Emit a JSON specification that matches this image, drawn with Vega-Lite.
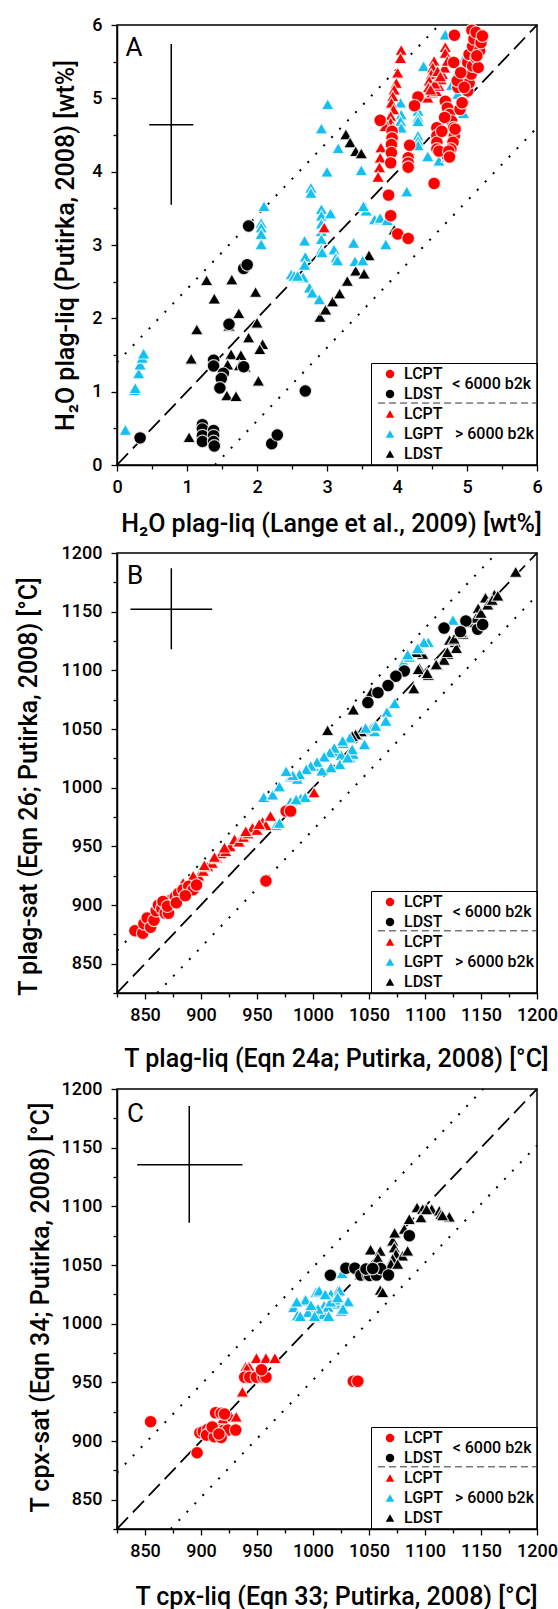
{
  "$schema": "https://vega.github.io/schema/vega-lite/v6.json",
  "background": "white",
  "padding": {"left": 15, "top": 15, "right": 5, "bottom": 0},
  "config": {
    "font": "Roboto",
    "view": {"stroke": "black", "strokeWidth": 1.5},
    "axis": {
      "grid": false, "domainColor": "black", "domainWidth": 1.5,
      "tickColor": "black", "tickWidth": 1.3,
      "labelFont": "Roboto", "labelFontSize": 18, "labelFontWeight": 500, "labelColor": "black",
      "labelOverlap": false, "labelFlush": false,
      "titleFont": "Roboto", "titleFontSize": 25, "titleFontWeight": 500,
      "titleColor": "black", "titleBaseline": "alphabetic"
    },
    "axisX": {"labelPadding": 7},
    "axisY": {"labelPadding": 9, "titleAngle": 270},
    "legend": {
      "title": null, "orient": "bottom-right", "offset": 0,
      "padding": 3, "rowPadding": 4, "symbolOffset": 8, "labelOffset": 6,
      "symbolSize": 72, "symbolStrokeWidth": 0, "symbolOpacity": 1,
      "labelFont": "Roboto", "labelFontSize": 16, "labelFontWeight": 500, "labelColor": "black",
      "strokeColor": "black"
    }
  },
  "datasets": {
    "guideA": [
      {"kind": "one", "x": 0, "y": 0, "x2": 6, "y2": 6},
      {"kind": "band", "x": 0, "y": 1.4, "x2": 4.6, "y2": 6},
      {"kind": "band", "x": 1.4, "y": 0, "x2": 6, "y2": 4.6},
      {"kind": "err", "x": 0.46, "y": 4.64, "x2": 1.09, "y2": 4.64},
      {"kind": "err", "x": 0.775, "y": 3.55, "x2": 0.775, "y2": 5.74},
      {"kind": "sep", "x": 3.73, "y": 0.845, "x2": 6, "y2": 0.845}
    ],
    "guideB": [
      {"kind": "one", "x": 825, "y": 825, "x2": 1200, "y2": 1200},
      {"kind": "band", "x": 825, "y": 861, "x2": 1164, "y2": 1200},
      {"kind": "band", "x": 861, "y": 825, "x2": 1200, "y2": 1164},
      {"kind": "err", "x": 837, "y": 1152, "x2": 910, "y2": 1152},
      {"kind": "err", "x": 873.5, "y": 1118, "x2": 873.5, "y2": 1187},
      {"kind": "sep", "x": 1058, "y": 878, "x2": 1200, "y2": 878}
    ],
    "guideC": [
      {"kind": "one", "x": 825, "y": 825, "x2": 1200, "y2": 1200},
      {"kind": "band", "x": 825, "y": 873, "x2": 1152, "y2": 1200},
      {"kind": "band", "x": 873, "y": 825, "x2": 1200, "y2": 1152},
      {"kind": "err", "x": 843, "y": 1135.5, "x2": 937, "y2": 1135.5},
      {"kind": "err", "x": 889.5, "y": 1086, "x2": 889.5, "y2": 1185.5},
      {"kind": "sep", "x": 1058, "y": 878, "x2": 1200, "y2": 878}
    ],
    "noteA": [
      {"kind": "panel", "x": 0.12, "y": 5.58, "label": "A"},
      {"kind": "group", "x": 4.79, "y": 1.10, "label": "< 6000 b2k"}
    ],
    "noteB": [
      {"kind": "panel", "x": 834, "y": 1174, "label": "B"},
      {"kind": "group", "x": 1124.7, "y": 894, "label": "< 6000 b2k"}
    ],
    "noteC": [
      {"kind": "panel", "x": 834, "y": 1171.5, "label": "C"},
      {"kind": "group", "x": 1124.7, "y": 894, "label": "< 6000 b2k"}
    ],
    "A": [
      {"series": "LDST >6000", "x": 1.03, "y": 0.38}, {"series": "LDST >6000", "x": 1.06, "y": 1.45}, {"series": "LDST >6000", "x": 1.14, "y": 1.85}, {"series": "LDST >6000", "x": 1.28, "y": 2.52}, {"series": "LDST >6000", "x": 1.39, "y": 2.27}, {"series": "LDST >6000", "x": 1.64, "y": 2.53}, {"series": "LDST >6000", "x": 1.74, "y": 2.07}, {"series": "LDST >6000", "x": 1.60, "y": 1.90}, {"series": "LDST >6000", "x": 1.98, "y": 2.36}, {"series": "LDST >6000", "x": 2.00, "y": 1.94}, {"series": "LDST >6000", "x": 1.88, "y": 1.74}, {"series": "LDST >6000", "x": 2.08, "y": 1.65}, {"series": "LDST >6000", "x": 2.04, "y": 1.58}, {"series": "LDST >6000", "x": 1.63, "y": 1.51}, {"series": "LDST >6000", "x": 1.58, "y": 1.37}, {"series": "LDST >6000", "x": 1.77, "y": 1.50}, {"series": "LDST >6000", "x": 1.75, "y": 1.36}, {"series": "LDST >6000", "x": 1.83, "y": 1.34}, {"series": "LDST >6000", "x": 1.57, "y": 0.95}, {"series": "LDST >6000", "x": 1.70, "y": 0.94}, {"series": "LDST >6000", "x": 2.02, "y": 1.15}, {"series": "LDST >6000", "x": 2.90, "y": 2.02}, {"series": "LDST >6000", "x": 2.98, "y": 2.12}, {"series": "LDST >6000", "x": 3.08, "y": 2.23}, {"series": "LDST >6000", "x": 3.18, "y": 2.34}, {"series": "LDST >6000", "x": 3.29, "y": 2.51}, {"series": "LDST >6000", "x": 3.41, "y": 2.65}, {"series": "LDST >6000", "x": 3.53, "y": 2.61}, {"series": "LDST >6000", "x": 3.60, "y": 2.86}, {"series": "LDST >6000", "x": 3.96, "y": 3.21}, {"series": "LDST >6000", "x": 3.27, "y": 4.51}, {"series": "LDST >6000", "x": 3.33, "y": 4.40}, {"series": "LDST >6000", "x": 3.41, "y": 4.28}, {"series": "LDST >6000", "x": 3.49, "y": 4.25},
      {"series": "LGPT >6000", "x": 0.12, "y": 0.48}, {"series": "LGPT >6000", "x": 0.25, "y": 1.02}, {"series": "LGPT >6000", "x": 0.26, "y": 1.05}, {"series": "LGPT >6000", "x": 0.31, "y": 1.25}, {"series": "LGPT >6000", "x": 0.33, "y": 1.37}, {"series": "LGPT >6000", "x": 0.36, "y": 1.46}, {"series": "LGPT >6000", "x": 0.38, "y": 1.52}, {"series": "LGPT >6000", "x": 2.10, "y": 3.53}, {"series": "LGPT >6000", "x": 2.06, "y": 3.30}, {"series": "LGPT >6000", "x": 2.06, "y": 3.24}, {"series": "LGPT >6000", "x": 2.06, "y": 3.15}, {"series": "LGPT >6000", "x": 2.06, "y": 3.01}, {"series": "LGPT >6000", "x": 2.68, "y": 3.06}, {"series": "LGPT >6000", "x": 2.69, "y": 2.84}, {"series": "LGPT >6000", "x": 2.68, "y": 2.73}, {"series": "LGPT >6000", "x": 2.66, "y": 2.56}, {"series": "LGPT >6000", "x": 2.49, "y": 2.60}, {"series": "LGPT >6000", "x": 2.53, "y": 2.58}, {"series": "LGPT >6000", "x": 2.58, "y": 2.58}, {"series": "LGPT >6000", "x": 2.75, "y": 2.42}, {"series": "LGPT >6000", "x": 2.79, "y": 2.35}, {"series": "LGPT >6000", "x": 2.89, "y": 2.26}, {"series": "LGPT >6000", "x": 2.77, "y": 3.78}, {"series": "LGPT >6000", "x": 2.77, "y": 3.71}, {"series": "LGPT >6000", "x": 2.92, "y": 3.49}, {"series": "LGPT >6000", "x": 2.92, "y": 3.40}, {"series": "LGPT >6000", "x": 2.92, "y": 3.29}, {"series": "LGPT >6000", "x": 2.92, "y": 3.19}, {"series": "LGPT >6000", "x": 2.92, "y": 3.08}, {"series": "LGPT >6000", "x": 2.92, "y": 2.94}, {"series": "LGPT >6000", "x": 2.93, "y": 2.90}, {"series": "LGPT >6000", "x": 3.05, "y": 3.43}, {"series": "LGPT >6000", "x": 3.10, "y": 2.94}, {"series": "LGPT >6000", "x": 3.13, "y": 2.83}, {"series": "LGPT >6000", "x": 3.15, "y": 2.79}, {"series": "LGPT >6000", "x": 3.38, "y": 3.03}, {"series": "LGPT >6000", "x": 3.40, "y": 2.78}, {"series": "LGPT >6000", "x": 3.51, "y": 2.79}, {"series": "LGPT >6000", "x": 3.56, "y": 3.47}, {"series": "LGPT >6000", "x": 3.52, "y": 3.53}, {"series": "LGPT >6000", "x": 3.68, "y": 3.35}, {"series": "LGPT >6000", "x": 3.76, "y": 3.37}, {"series": "LGPT >6000", "x": 3.86, "y": 3.34}, {"series": "LGPT >6000", "x": 3.84, "y": 3.01}, {"series": "LGPT >6000", "x": 3.01, "y": 4.92}, {"series": "LGPT >6000", "x": 2.92, "y": 4.59}, {"series": "LGPT >6000", "x": 3.16, "y": 4.32}, {"series": "LGPT >6000", "x": 3.00, "y": 4.00}, {"series": "LGPT >6000", "x": 3.49, "y": 4.02}, {"series": "LGPT >6000", "x": 4.14, "y": 3.73}, {"series": "LGPT >6000", "x": 4.44, "y": 4.21}, {"series": "LGPT >6000", "x": 4.60, "y": 4.15}, {"series": "LGPT >6000", "x": 4.72, "y": 4.20}, {"series": "LGPT >6000", "x": 4.30, "y": 4.83}, {"series": "LGPT >6000", "x": 4.30, "y": 4.74}, {"series": "LGPT >6000", "x": 4.30, "y": 4.69}, {"series": "LGPT >6000", "x": 4.30, "y": 4.49}, {"series": "LGPT >6000", "x": 4.30, "y": 4.42}, {"series": "LGPT >6000", "x": 4.30, "y": 4.36}, {"series": "LGPT >6000", "x": 4.05, "y": 4.94}, {"series": "LGPT >6000", "x": 4.06, "y": 4.78}, {"series": "LGPT >6000", "x": 4.05, "y": 4.69}, {"series": "LGPT >6000", "x": 4.06, "y": 4.60}, {"series": "LGPT >6000", "x": 4.69, "y": 5.87}, {"series": "LGPT >6000", "x": 4.38, "y": 5.44}, {"series": "LGPT >6000", "x": 4.96, "y": 5.55}, {"series": "LGPT >6000", "x": 4.84, "y": 5.32}, {"series": "LGPT >6000", "x": 4.78, "y": 5.18}, {"series": "LGPT >6000", "x": 4.90, "y": 5.09}, {"series": "LGPT >6000", "x": 4.87, "y": 5.06}, {"series": "LGPT >6000", "x": 4.95, "y": 4.80},
      {"series": "LDST <6000", "x": 0.33, "y": 0.37}, {"series": "LDST <6000", "x": 1.88, "y": 3.26}, {"series": "LDST <6000", "x": 1.81, "y": 2.68}, {"series": "LDST <6000", "x": 1.86, "y": 2.73}, {"series": "LDST <6000", "x": 2.69, "y": 1.01}, {"series": "LDST <6000", "x": 2.21, "y": 0.29}, {"series": "LDST <6000", "x": 2.29, "y": 0.41}, {"series": "LDST <6000", "x": 1.22, "y": 0.55}, {"series": "LDST <6000", "x": 1.22, "y": 0.49}, {"series": "LDST <6000", "x": 1.22, "y": 0.40}, {"series": "LDST <6000", "x": 1.22, "y": 0.32}, {"series": "LDST <6000", "x": 1.38, "y": 0.47}, {"series": "LDST <6000", "x": 1.38, "y": 0.40}, {"series": "LDST <6000", "x": 1.38, "y": 0.32}, {"series": "LDST <6000", "x": 1.39, "y": 0.26}, {"series": "LDST <6000", "x": 1.38, "y": 1.43}, {"series": "LDST <6000", "x": 1.38, "y": 1.35}, {"series": "LDST <6000", "x": 1.52, "y": 1.25}, {"series": "LDST <6000", "x": 1.49, "y": 1.18}, {"series": "LDST <6000", "x": 1.47, "y": 1.05}, {"series": "LDST <6000", "x": 1.60, "y": 1.92}, {"series": "LDST <6000", "x": 1.81, "y": 1.34},
      {"series": "LCPT >6000", "x": 4.06, "y": 5.66}, {"series": "LCPT >6000", "x": 4.05, "y": 5.55}, {"series": "LCPT >6000", "x": 4.69, "y": 5.70}, {"series": "LCPT >6000", "x": 4.69, "y": 5.62}, {"series": "LCPT >6000", "x": 4.01, "y": 5.35}, {"series": "LCPT >6000", "x": 3.99, "y": 5.21}, {"series": "LCPT >6000", "x": 3.96, "y": 5.12}, {"series": "LCPT >6000", "x": 3.94, "y": 5.03}, {"series": "LCPT >6000", "x": 3.92, "y": 4.94}, {"series": "LCPT >6000", "x": 3.95, "y": 4.85}, {"series": "LCPT >6000", "x": 3.91, "y": 4.76}, {"series": "LCPT >6000", "x": 3.91, "y": 4.67}, {"series": "LCPT >6000", "x": 3.94, "y": 4.58}, {"series": "LCPT >6000", "x": 3.94, "y": 4.49}, {"series": "LCPT >6000", "x": 3.91, "y": 4.40}, {"series": "LCPT >6000", "x": 3.82, "y": 4.69}, {"series": "LCPT >6000", "x": 3.83, "y": 4.62}, {"series": "LCPT >6000", "x": 3.77, "y": 4.33}, {"series": "LCPT >6000", "x": 3.76, "y": 4.19}, {"series": "LCPT >6000", "x": 3.75, "y": 4.06}, {"series": "LCPT >6000", "x": 3.73, "y": 3.93}, {"series": "LCPT >6000", "x": 4.53, "y": 5.51}, {"series": "LCPT >6000", "x": 4.51, "y": 5.42}, {"series": "LCPT >6000", "x": 4.49, "y": 5.33}, {"series": "LCPT >6000", "x": 4.46, "y": 5.24}, {"series": "LCPT >6000", "x": 4.45, "y": 5.15}, {"series": "LCPT >6000", "x": 4.44, "y": 5.01}, {"series": "LCPT >6000", "x": 4.50, "y": 5.08}, {"series": "LCPT >6000", "x": 4.56, "y": 5.10}, {"series": "LCPT >6000", "x": 4.60, "y": 5.17}, {"series": "LCPT >6000", "x": 4.63, "y": 5.26}, {"series": "LCPT >6000", "x": 4.65, "y": 5.33}, {"series": "LCPT >6000", "x": 4.68, "y": 5.42}, {"series": "LCPT >6000", "x": 4.72, "y": 5.51}, {"series": "LCPT >6000", "x": 4.58, "y": 5.37}, {"series": "LCPT >6000", "x": 4.54, "y": 5.20}, {"series": "LCPT >6000", "x": 4.48, "y": 5.12}, {"series": "LCPT >6000", "x": 4.62, "y": 5.30}, {"series": "LCPT >6000", "x": 2.96, "y": 3.24},
      {"series": "LCPT <6000", "x": 4.82, "y": 5.86}, {"series": "LCPT <6000", "x": 5.07, "y": 5.93}, {"series": "LCPT <6000", "x": 5.20, "y": 5.87}, {"series": "LCPT <6000", "x": 5.22, "y": 5.81}, {"series": "LCPT <6000", "x": 5.18, "y": 5.74}, {"series": "LCPT <6000", "x": 5.10, "y": 5.65}, {"series": "LCPT <6000", "x": 5.13, "y": 5.58}, {"series": "LCPT <6000", "x": 3.76, "y": 4.70}, {"series": "LCPT <6000", "x": 3.88, "y": 3.68}, {"series": "LCPT <6000", "x": 3.91, "y": 3.40}, {"series": "LCPT <6000", "x": 4.01, "y": 3.15}, {"series": "LCPT <6000", "x": 4.16, "y": 3.09}, {"series": "LCPT <6000", "x": 4.16, "y": 4.19}, {"series": "LCPT <6000", "x": 4.16, "y": 4.12}, {"series": "LCPT <6000", "x": 4.16, "y": 4.06}, {"series": "LCPT <6000", "x": 4.18, "y": 4.36}, {"series": "LCPT <6000", "x": 3.93, "y": 4.55}, {"series": "LCPT <6000", "x": 3.93, "y": 4.46}, {"series": "LCPT <6000", "x": 3.92, "y": 4.37}, {"series": "LCPT <6000", "x": 3.92, "y": 4.26}, {"series": "LCPT <6000", "x": 3.91, "y": 4.12}, {"series": "LCPT <6000", "x": 4.53, "y": 3.84}, {"series": "LCPT <6000", "x": 4.30, "y": 5.02}, {"series": "LCPT <6000", "x": 4.25, "y": 4.90}, {"series": "LCPT <6000", "x": 4.81, "y": 5.49}, {"series": "LCPT <6000", "x": 4.57, "y": 4.60}, {"series": "LCPT <6000", "x": 4.57, "y": 4.49}, {"series": "LCPT <6000", "x": 4.57, "y": 4.40}, {"series": "LCPT <6000", "x": 4.57, "y": 4.31}, {"series": "LCPT <6000", "x": 4.69, "y": 4.96}, {"series": "LCPT <6000", "x": 4.72, "y": 4.87}, {"series": "LCPT <6000", "x": 4.75, "y": 4.78}, {"series": "LCPT <6000", "x": 4.78, "y": 4.69}, {"series": "LCPT <6000", "x": 4.81, "y": 4.60}, {"series": "LCPT <6000", "x": 4.82, "y": 4.49}, {"series": "LCPT <6000", "x": 4.80, "y": 4.40}, {"series": "LCPT <6000", "x": 4.77, "y": 4.31}, {"series": "LCPT <6000", "x": 4.72, "y": 4.21}, {"series": "LCPT <6000", "x": 4.87, "y": 5.15}, {"series": "LCPT <6000", "x": 4.94, "y": 5.26}, {"series": "LCPT <6000", "x": 4.99, "y": 5.37}, {"series": "LCPT <6000", "x": 5.01, "y": 5.49}, {"series": "LCPT <6000", "x": 5.03, "y": 5.60}, {"series": "LCPT <6000", "x": 5.08, "y": 5.71}, {"series": "LCPT <6000", "x": 5.10, "y": 5.81}, {"series": "LCPT <6000", "x": 5.13, "y": 5.90}, {"series": "LCPT <6000", "x": 5.01, "y": 5.10}, {"series": "LCPT <6000", "x": 5.03, "y": 5.21}, {"series": "LCPT <6000", "x": 5.06, "y": 5.33}, {"series": "LCPT <6000", "x": 5.08, "y": 5.44}, {"series": "LCPT <6000", "x": 5.13, "y": 5.55}, {"series": "LCPT <6000", "x": 5.18, "y": 5.65}, {"series": "LCPT <6000", "x": 5.20, "y": 5.76}, {"series": "LCPT <6000", "x": 5.22, "y": 5.85}, {"series": "LCPT <6000", "x": 4.94, "y": 4.94}, {"series": "LCPT <6000", "x": 4.90, "y": 4.85}, {"series": "LCPT <6000", "x": 4.64, "y": 4.55}, {"series": "LCPT <6000", "x": 4.68, "y": 4.74}, {"series": "LCPT <6000", "x": 4.60, "y": 4.28}, {"series": "LCPT <6000", "x": 4.83, "y": 4.58}, {"series": "LCPT <6000", "x": 4.74, "y": 4.28}, {"series": "LCPT <6000", "x": 4.75, "y": 4.20}, {"series": "LCPT <6000", "x": 4.93, "y": 4.94}, {"series": "LCPT <6000", "x": 4.86, "y": 5.24}, {"series": "LCPT <6000", "x": 4.91, "y": 5.35}, {"series": "LCPT <6000", "x": 4.96, "y": 5.15}, {"series": "LCPT <6000", "x": 5.16, "y": 5.42}, {"series": "LCPT <6000", "x": 5.14, "y": 5.58}
    ],
    "B": [
      {"series": "LDST >6000", "x": 1181, "y": 1184}, {"series": "LDST >6000", "x": 1157, "y": 1159}, {"series": "LDST >6000", "x": 1147.5, "y": 1153}, {"series": "LDST >6000", "x": 1154, "y": 1162}, {"series": "LDST >6000", "x": 1162, "y": 1164.6}, {"series": "LDST >6000", "x": 1134, "y": 1131}, {"series": "LDST >6000", "x": 1127, "y": 1124}, {"series": "LDST >6000", "x": 1120.5, "y": 1114}, {"series": "LDST >6000", "x": 1116, "y": 1109}, {"series": "LDST >6000", "x": 1128, "y": 1119}, {"series": "LDST >6000", "x": 1122, "y": 1126}, {"series": "LDST >6000", "x": 1111, "y": 1104.5}, {"series": "LDST >6000", "x": 1103, "y": 1096}, {"series": "LDST >6000", "x": 1098, "y": 1114}, {"series": "LDST >6000", "x": 1095, "y": 1102}, {"series": "LDST >6000", "x": 1090, "y": 1084.6}, {"series": "LDST >6000", "x": 1052, "y": 1081.7}, {"series": "LDST >6000", "x": 1036, "y": 1066.6}, {"series": "LDST >6000", "x": 1013, "y": 1049}, {"series": "LDST >6000", "x": 1052, "y": 1050.5}, {"series": "LDST >6000", "x": 1039.5, "y": 1045}, {"series": "LDST >6000", "x": 1046, "y": 1049}, {"series": "LDST >6000", "x": 1092, "y": 1115.6}, {"series": "LDST >6000", "x": 1117, "y": 1109}, {"series": "LDST >6000", "x": 1120, "y": 1115.6}, {"series": "LDST >6000", "x": 1126, "y": 1127}, {"series": "LDST >6000", "x": 1132, "y": 1132.6}, {"series": "LDST >6000", "x": 1141, "y": 1141}, {"series": "LDST >6000", "x": 1145.5, "y": 1144.7}, {"series": "LDST >6000", "x": 1150, "y": 1149}, {"series": "LDST >6000", "x": 1156, "y": 1156}, {"series": "LDST >6000", "x": 1160, "y": 1160}, {"series": "LDST >6000", "x": 1165, "y": 1163.6}, {"series": "LDST >6000", "x": 1047, "y": 1050}, {"series": "LDST >6000", "x": 1043, "y": 1048}, {"series": "LDST >6000", "x": 1038, "y": 1045.5}, {"series": "LDST >6000", "x": 1035, "y": 1044}, {"series": "LDST >6000", "x": 1094, "y": 1101}, {"series": "LDST >6000", "x": 1102, "y": 1097.6}, {"series": "LDST >6000", "x": 1110, "y": 1105},
      {"series": "LGPT >6000", "x": 956, "y": 992}, {"series": "LGPT >6000", "x": 964, "y": 994}, {"series": "LGPT >6000", "x": 970, "y": 1001}, {"series": "LGPT >6000", "x": 980, "y": 1009.5}, {"series": "LGPT >6000", "x": 986, "y": 1007.5}, {"series": "LGPT >6000", "x": 980, "y": 988}, {"series": "LGPT >6000", "x": 984.5, "y": 990}, {"series": "LGPT >6000", "x": 989, "y": 991}, {"series": "LGPT >6000", "x": 993, "y": 992}, {"series": "LGPT >6000", "x": 967, "y": 968}, {"series": "LGPT >6000", "x": 970, "y": 970}, {"series": "LGPT >6000", "x": 1001, "y": 1018.5}, {"series": "LGPT >6000", "x": 1004.5, "y": 1021}, {"series": "LGPT >6000", "x": 1011, "y": 1026}, {"series": "LGPT >6000", "x": 1019, "y": 1030.6}, {"series": "LGPT >6000", "x": 1027, "y": 1038}, {"series": "LGPT >6000", "x": 1033, "y": 1042.6}, {"series": "LGPT >6000", "x": 1033, "y": 1025.6}, {"series": "LGPT >6000", "x": 1025, "y": 1028}, {"series": "LGPT >6000", "x": 1046, "y": 1037}, {"series": "LGPT >6000", "x": 1055, "y": 1048}, {"series": "LGPT >6000", "x": 1065, "y": 1057.6}, {"series": "LGPT >6000", "x": 1066.5, "y": 1064.7}, {"series": "LGPT >6000", "x": 1073, "y": 1072}, {"series": "LGPT >6000", "x": 1054, "y": 1052}, {"series": "LGPT >6000", "x": 1081, "y": 1107}, {"series": "LGPT >6000", "x": 1086, "y": 1111.5}, {"series": "LGPT >6000", "x": 1095, "y": 1118.6}, {"series": "LGPT >6000", "x": 1103, "y": 1124}, {"series": "LGPT >6000", "x": 1125, "y": 1143}, {"series": "LGPT >6000", "x": 1036, "y": 1028.7}, {"series": "LGPT >6000", "x": 1024, "y": 1020}, {"series": "LGPT >6000", "x": 1016, "y": 1017.4}, {"series": "LGPT >6000", "x": 1008, "y": 1014.6}, {"series": "LGPT >6000", "x": 1099, "y": 1124}, {"series": "LGPT >6000", "x": 1093.5, "y": 1119}, {"series": "LGPT >6000", "x": 1084.5, "y": 1113.5}, {"series": "LGPT >6000", "x": 1066, "y": 1064.5}, {"series": "LGPT >6000", "x": 1065, "y": 1057}, {"series": "LGPT >6000", "x": 1056, "y": 1052.6}, {"series": "LGPT >6000", "x": 1047, "y": 1051}, {"series": "LGPT >6000", "x": 1035, "y": 1032.7}, {"series": "LGPT >6000", "x": 1031, "y": 1025.7}, {"series": "LGPT >6000", "x": 1026.5, "y": 1040}, {"series": "LGPT >6000", "x": 1019, "y": 1034}, {"series": "LGPT >6000", "x": 1015, "y": 1030}, {"series": "LGPT >6000", "x": 1010, "y": 1026.5}, {"series": "LGPT >6000", "x": 1003.6, "y": 1022}, {"series": "LGPT >6000", "x": 998, "y": 1018.6}, {"series": "LGPT >6000", "x": 994, "y": 1015.7}, {"series": "LGPT >6000", "x": 988, "y": 1011.5}, {"series": "LGPT >6000", "x": 982, "y": 1010.6}, {"series": "LGPT >6000", "x": 976, "y": 1014}, {"series": "LGPT >6000", "x": 985, "y": 990},
      {"series": "LDST <6000", "x": 1117, "y": 1136}, {"series": "LDST <6000", "x": 1136.5, "y": 1142}, {"series": "LDST <6000", "x": 1147, "y": 1135}, {"series": "LDST <6000", "x": 1151.5, "y": 1139}, {"series": "LDST <6000", "x": 1131.6, "y": 1133}, {"series": "LDST <6000", "x": 1081.5, "y": 1099.4}, {"series": "LDST <6000", "x": 1074, "y": 1095}, {"series": "LDST <6000", "x": 1067, "y": 1087}, {"series": "LDST <6000", "x": 1058, "y": 1081}, {"series": "LDST <6000", "x": 1049, "y": 1072.5},
      {"series": "LCPT >6000", "x": 870, "y": 905}, {"series": "LCPT >6000", "x": 876, "y": 908}, {"series": "LCPT >6000", "x": 881, "y": 912}, {"series": "LCPT >6000", "x": 886, "y": 916}, {"series": "LCPT >6000", "x": 891, "y": 920}, {"series": "LCPT >6000", "x": 896, "y": 922}, {"series": "LCPT >6000", "x": 898, "y": 925}, {"series": "LCPT >6000", "x": 902, "y": 929}, {"series": "LCPT >6000", "x": 906, "y": 933}, {"series": "LCPT >6000", "x": 910, "y": 936}, {"series": "LCPT >6000", "x": 914, "y": 940}, {"series": "LCPT >6000", "x": 918, "y": 944}, {"series": "LCPT >6000", "x": 922, "y": 946}, {"series": "LCPT >6000", "x": 926, "y": 950}, {"series": "LCPT >6000", "x": 930, "y": 956}, {"series": "LCPT >6000", "x": 934, "y": 954}, {"series": "LCPT >6000", "x": 938, "y": 958}, {"series": "LCPT >6000", "x": 942, "y": 961}, {"series": "LCPT >6000", "x": 946, "y": 966}, {"series": "LCPT >6000", "x": 950, "y": 964}, {"series": "LCPT >6000", "x": 955, "y": 971}, {"series": "LCPT >6000", "x": 958, "y": 968}, {"series": "LCPT >6000", "x": 962, "y": 976}, {"series": "LCPT >6000", "x": 1001, "y": 996}, {"series": "LCPT >6000", "x": 884, "y": 919}, {"series": "LCPT >6000", "x": 893, "y": 925}, {"series": "LCPT >6000", "x": 903, "y": 934}, {"series": "LCPT >6000", "x": 912, "y": 941}, {"series": "LCPT >6000", "x": 921, "y": 949}, {"series": "LCPT >6000", "x": 940, "y": 963}, {"series": "LCPT >6000", "x": 952, "y": 969},
      {"series": "LCPT <6000", "x": 841, "y": 878}, {"series": "LCPT <6000", "x": 848, "y": 876}, {"series": "LCPT <6000", "x": 849, "y": 884}, {"series": "LCPT <6000", "x": 852, "y": 889}, {"series": "LCPT <6000", "x": 855, "y": 881}, {"series": "LCPT <6000", "x": 858, "y": 887}, {"series": "LCPT <6000", "x": 860, "y": 895}, {"series": "LCPT <6000", "x": 862, "y": 900}, {"series": "LCPT <6000", "x": 865, "y": 897}, {"series": "LCPT <6000", "x": 868, "y": 893}, {"series": "LCPT <6000", "x": 871, "y": 893}, {"series": "LCPT <6000", "x": 873, "y": 904}, {"series": "LCPT <6000", "x": 877, "y": 907}, {"series": "LCPT <6000", "x": 880, "y": 910}, {"series": "LCPT <6000", "x": 884, "y": 913}, {"series": "LCPT <6000", "x": 889, "y": 916}, {"series": "LCPT <6000", "x": 893, "y": 913}, {"series": "LCPT <6000", "x": 896, "y": 917}, {"series": "LCPT <6000", "x": 866, "y": 903}, {"series": "LCPT <6000", "x": 870, "y": 899}, {"series": "LCPT <6000", "x": 878, "y": 902}, {"series": "LCPT <6000", "x": 886, "y": 908}, {"series": "LCPT <6000", "x": 958, "y": 920.5}, {"series": "LCPT <6000", "x": 976, "y": 980}, {"series": "LCPT <6000", "x": 980, "y": 980}
    ],
    "C": [
      {"series": "LDST >6000", "x": 1022, "y": 1027.5}, {"series": "LDST >6000", "x": 1060.1, "y": 1028.8}, {"series": "LDST >6000", "x": 1062.2, "y": 1026.8}, {"series": "LDST >6000", "x": 1051.4, "y": 1063.2}, {"series": "LDST >6000", "x": 1060, "y": 1062}, {"series": "LDST >6000", "x": 1071.2, "y": 1070.7}, {"series": "LDST >6000", "x": 1072.6, "y": 1065}, {"series": "LDST >6000", "x": 1074.1, "y": 1059.4}, {"series": "LDST >6000", "x": 1080, "y": 1058}, {"series": "LDST >6000", "x": 1084.5, "y": 1062.2}, {"series": "LDST >6000", "x": 1081.5, "y": 1080.7}, {"series": "LDST >6000", "x": 1086, "y": 1089.2}, {"series": "LDST >6000", "x": 1092.9, "y": 1099.1}, {"series": "LDST >6000", "x": 1097.9, "y": 1097.7}, {"series": "LDST >6000", "x": 1106, "y": 1097.7}, {"series": "LDST >6000", "x": 1112.8, "y": 1096.3}, {"series": "LDST >6000", "x": 1121.7, "y": 1091.2}, {"series": "LDST >6000", "x": 1096.4, "y": 1090.6}, {"series": "LDST >6000", "x": 1114.3, "y": 1093.4}, {"series": "LDST >6000", "x": 1071.1, "y": 1055.2}, {"series": "LDST >6000", "x": 1069.6, "y": 1050.9}, {"series": "LDST >6000", "x": 1075.6, "y": 1050.9}, {"series": "LDST >6000", "x": 1057.9, "y": 1056}, {"series": "LDST >6000", "x": 1072.9, "y": 1077.5}, {"series": "LDST >6000", "x": 1101.4, "y": 1097.5}, {"series": "LDST >6000", "x": 1115.7, "y": 1092.3},
      {"series": "LGPT >6000", "x": 982.7, "y": 1014}, {"series": "LGPT >6000", "x": 986, "y": 1007}, {"series": "LGPT >6000", "x": 992, "y": 1019.7}, {"series": "LGPT >6000", "x": 998, "y": 1014}, {"series": "LGPT >6000", "x": 1002.7, "y": 1026.8}, {"series": "LGPT >6000", "x": 1004, "y": 1005.5}, {"series": "LGPT >6000", "x": 1010, "y": 1015.5}, {"series": "LGPT >6000", "x": 1013, "y": 1007}, {"series": "LGPT >6000", "x": 1016, "y": 1025.4}, {"series": "LGPT >6000", "x": 1020.5, "y": 1017}, {"series": "LGPT >6000", "x": 1025, "y": 1011}, {"series": "LGPT >6000", "x": 1031, "y": 1018.3}, {"series": "LGPT >6000", "x": 993.4, "y": 1020.5}, {"series": "LGPT >6000", "x": 1005.5, "y": 1028.2}, {"series": "LGPT >6000", "x": 995.6, "y": 1009.8}, {"series": "LGPT >6000", "x": 1009.3, "y": 1008.2}, {"series": "LGPT >6000", "x": 1013.4, "y": 1014.4}, {"series": "LGPT >6000", "x": 1019.8, "y": 1020.5}, {"series": "LGPT >6000", "x": 1023.6, "y": 1028.2}, {"series": "LGPT >6000", "x": 1031.5, "y": 1019}, {"series": "LGPT >6000", "x": 1026.8, "y": 1012.7}, {"series": "LGPT >6000", "x": 1004.5, "y": 1012.7}, {"series": "LGPT >6000", "x": 998.2, "y": 1015.8}, {"series": "LGPT >6000", "x": 988.6, "y": 1006.5}, {"series": "LGPT >6000", "x": 985.5, "y": 1018.8}, {"series": "LGPT >6000", "x": 1001.4, "y": 1006.5}, {"series": "LGPT >6000", "x": 1014, "y": 1006.5}, {"series": "LGPT >6000", "x": 1015.7, "y": 1018.8}, {"series": "LGPT >6000", "x": 1010.9, "y": 1025}, {"series": "LGPT >6000", "x": 1022, "y": 1022.5}, {"series": "LGPT >6000", "x": 1026, "y": 1043},
      {"series": "LDST <6000", "x": 1015.5, "y": 1041.3}, {"series": "LDST <6000", "x": 1029.4, "y": 1047.3}, {"series": "LDST <6000", "x": 1037.4, "y": 1047.3}, {"series": "LDST <6000", "x": 1042.8, "y": 1041.4}, {"series": "LDST <6000", "x": 1049.2, "y": 1041}, {"series": "LDST <6000", "x": 1050.6, "y": 1041}, {"series": "LDST <6000", "x": 1056.6, "y": 1041.4}, {"series": "LDST <6000", "x": 1060.4, "y": 1047}, {"series": "LDST <6000", "x": 1067.4, "y": 1041.4}, {"series": "LDST <6000", "x": 1047.3, "y": 1046.6}, {"series": "LDST <6000", "x": 1053.3, "y": 1047}, {"series": "LDST <6000", "x": 1086, "y": 1075},
      {"series": "LCPT >6000", "x": 937, "y": 942}, {"series": "LCPT >6000", "x": 940, "y": 963.6}, {"series": "LCPT >6000", "x": 943, "y": 963.6}, {"series": "LCPT >6000", "x": 949.5, "y": 970.7}, {"series": "LCPT >6000", "x": 958, "y": 970.7}, {"series": "LCPT >6000", "x": 966, "y": 970.7}, {"series": "LCPT >6000", "x": 922.5, "y": 922}, {"series": "LCPT >6000", "x": 927, "y": 920.7}, {"series": "LCPT >6000", "x": 931.5, "y": 920.7}, {"series": "LCPT >6000", "x": 919.5, "y": 919}, {"series": "LCPT >6000", "x": 941, "y": 962},
      {"series": "LCPT <6000", "x": 855, "y": 916.5}, {"series": "LCPT <6000", "x": 896.5, "y": 890}, {"series": "LCPT <6000", "x": 899, "y": 907}, {"series": "LCPT <6000", "x": 902, "y": 908}, {"series": "LCPT <6000", "x": 906, "y": 910}, {"series": "LCPT <6000", "x": 909, "y": 909.3}, {"series": "LCPT <6000", "x": 913, "y": 910}, {"series": "LCPT <6000", "x": 917, "y": 909.3}, {"series": "LCPT <6000", "x": 920, "y": 909}, {"series": "LCPT <6000", "x": 924, "y": 909.3}, {"series": "LCPT <6000", "x": 931, "y": 909.3}, {"series": "LCPT <6000", "x": 905, "y": 905}, {"series": "LCPT <6000", "x": 912, "y": 903.6}, {"series": "LCPT <6000", "x": 918, "y": 903}, {"series": "LCPT <6000", "x": 913, "y": 924}, {"series": "LCPT <6000", "x": 918, "y": 923.6}, {"series": "LCPT <6000", "x": 921, "y": 923}, {"series": "LCPT <6000", "x": 939, "y": 954.4}, {"series": "LCPT <6000", "x": 943.5, "y": 954.4}, {"series": "LCPT <6000", "x": 949.5, "y": 954.4}, {"series": "LCPT <6000", "x": 955.5, "y": 954.4}, {"series": "LCPT <6000", "x": 958, "y": 954.4}, {"series": "LCPT <6000", "x": 954, "y": 960.7}, {"series": "LCPT <6000", "x": 1036, "y": 951}, {"series": "LCPT <6000", "x": 1040, "y": 951}, {"series": "LCPT <6000", "x": 910, "y": 912}, {"series": "LCPT <6000", "x": 916, "y": 906}
    ]
  },
  "spacing": 88,
  "bounds": "flush",
  "resolve": {
    "scale": {"x": "independent", "y": "independent", "color": "independent", "shape": "independent"},
    "legend": {"color": "independent", "shape": "independent"}
  },
  "vconcat": [
    {
      "width": 420, "height": 440,
      "encoding": {
        "x": {"field": "x", "type": "quantitative", "scale": {"domain": [0, 6], "nice": false, "zero": false},
          "axis": {"values": [0, 0.5, 1, 1.5, 2, 2.5, 3, 3.5, 4, 4.5, 5, 5.5, 6],
            "labelExpr": "datum.value % 1 === 0 ? format(datum.value, 'd') : ''",
            "tickSize": {"condition": {"test": "datum.value % 1 === 0", "value": 6}, "value": 4},
            "title": "H₂O plag-liq (Lange et al., 2009) [wt%]", "titleX": 214, "titleY": 66}},
        "y": {"field": "y", "type": "quantitative", "scale": {"domain": [0, 6], "nice": false, "zero": false},
          "axis": {"values": [0, 0.5, 1, 1.5, 2, 2.5, 3, 3.5, 4, 4.5, 5, 5.5, 6],
            "labelExpr": "datum.value % 1 === 0 ? format(datum.value, 'd') : ''",
            "tickSize": {"condition": {"test": "datum.value % 1 === 0", "value": 6}, "value": 4},
            "title": "H₂O plag-liq (Putirka, 2008) [wt%]", "titleX": -44, "titleY": 220}}
      },
      "layer": [
        {"data": {"name": "guideA"}, "transform": [{"filter": "datum.kind === 'band'"}],
          "mark": {"type": "rule", "strokeDash": [2, 9.5], "strokeWidth": 2, "color": "black"},
          "encoding": {"x2": {"field": "x2"}, "y2": {"field": "y2"}}},
        {"data": {"name": "guideA"}, "transform": [{"filter": "datum.kind === 'one'"}],
          "mark": {"type": "rule", "strokeDash": [16, 7], "strokeWidth": 1.8, "color": "black"},
          "encoding": {"x2": {"field": "x2"}, "y2": {"field": "y2"}}},
        {"data": {"name": "guideA"}, "transform": [{"filter": "datum.kind === 'err'"}],
          "mark": {"type": "rule", "strokeWidth": 1.5, "color": "black"},
          "encoding": {"x2": {"field": "x2"}, "y2": {"field": "y2"}}},
        {"data": {"name": "guideA"}, "transform": [{"filter": "datum.kind === 'sep'"}],
          "mark": {"type": "rule", "strokeDash": [7, 4], "strokeWidth": 1, "color": "#333333"},
          "encoding": {"x2": {"field": "x2"}, "y2": {"field": "y2"}}},
        {"data": {"name": "A"},
          "mark": {"type": "point", "filled": true, "opacity": 1, "size": 160, "stroke": "white", "strokeWidth": 1.2, "strokeOpacity": 0.8},
          "encoding": {
            "color": {"field": "series", "type": "nominal",
              "scale": {"domain": ["LCPT <6000", "LDST <6000", "LCPT >6000", "LGPT >6000", "LDST >6000"], "range": ["#ff0000", "#000000", "#ff0000", "#14bff2", "#000000"]},
              "legend": {"labelExpr": "datum.label === 'LGPT >6000' ? 'LGPT\u00a0\u00a0\u00a0> 6000 b2k' : slice(datum.label, 0, 4)"}},
            "shape": {"field": "series", "type": "nominal",
              "scale": {"domain": ["LCPT <6000", "LDST <6000", "LCPT >6000", "LGPT >6000", "LDST >6000"], "range": ["circle", "circle", "triangle-up", "triangle-up", "triangle-up"]},
              "legend": {"labelExpr": "datum.label === 'LGPT >6000' ? 'LGPT\u00a0\u00a0\u00a0> 6000 b2k' : slice(datum.label, 0, 4)"}}
          }},
        {"data": {"name": "noteA"}, "transform": [{"filter": "datum.kind === 'group'"}],
          "mark": {"type": "text", "align": "left", "baseline": "middle", "fontSize": 16, "fontWeight": 500, "font": "Roboto", "color": "black"},
          "encoding": {"text": {"field": "label"}}},
        {"data": {"name": "noteA"}, "transform": [{"filter": "datum.kind === 'panel'"}],
          "mark": {"type": "text", "align": "left", "baseline": "alphabetic", "fontSize": 26, "fontWeight": 400, "font": "Roboto", "color": "black"},
          "encoding": {"text": {"field": "label"}}}
      ]
    },
    {
      "spacing": 96,
      "bounds": "flush",
      "resolve": {
        "scale": {"x": "independent", "y": "independent", "color": "independent", "shape": "independent"},
        "legend": {"color": "independent", "shape": "independent"}
      },
      "vconcat": [
        {
          "width": 420, "height": 440,
          "encoding": {
            "x": {"field": "x", "type": "quantitative", "scale": {"domain": [825, 1200], "nice": false, "zero": false},
              "axis": {"values": [825, 850, 875, 900, 925, 950, 975, 1000, 1025, 1050, 1075, 1100, 1125, 1150, 1175, 1200],
                "labelExpr": "datum.value % 50 === 0 ? format(datum.value, 'd') : ''",
                "tickSize": {"condition": {"test": "datum.value % 50 === 0", "value": 6}, "value": 4},
                "title": "T plag-liq (Eqn 24a; Putirka, 2008) [°C]", "titleX": 219, "titleY": 73}},
            "y": {"field": "y", "type": "quantitative", "scale": {"domain": [825, 1200], "nice": false, "zero": false},
              "axis": {"values": [825, 850, 875, 900, 925, 950, 975, 1000, 1025, 1050, 1075, 1100, 1125, 1150, 1175, 1200],
                "labelExpr": "datum.value % 50 === 0 ? format(datum.value, 'd') : ''",
                "tickSize": {"condition": {"test": "datum.value % 50 === 0", "value": 6}, "value": 4},
                "title": "T plag-sat (Eqn 26; Putirka, 2008) [°C]", "titleX": -81, "titleY": 233}}
          },
          "layer": [
            {"data": {"name": "guideB"}, "transform": [{"filter": "datum.kind === 'band'"}],
              "mark": {"type": "rule", "strokeDash": [2, 9.5], "strokeWidth": 2, "color": "black"},
              "encoding": {"x2": {"field": "x2"}, "y2": {"field": "y2"}}},
            {"data": {"name": "guideB"}, "transform": [{"filter": "datum.kind === 'one'"}],
              "mark": {"type": "rule", "strokeDash": [16, 7], "strokeWidth": 1.8, "color": "black"},
              "encoding": {"x2": {"field": "x2"}, "y2": {"field": "y2"}}},
            {"data": {"name": "guideB"}, "transform": [{"filter": "datum.kind === 'err'"}],
              "mark": {"type": "rule", "strokeWidth": 1.5, "color": "black"},
              "encoding": {"x2": {"field": "x2"}, "y2": {"field": "y2"}}},
            {"data": {"name": "guideB"}, "transform": [{"filter": "datum.kind === 'sep'"}],
              "mark": {"type": "rule", "strokeDash": [7, 4], "strokeWidth": 1, "color": "#333333"},
              "encoding": {"x2": {"field": "x2"}, "y2": {"field": "y2"}}},
            {"data": {"name": "B"},
              "mark": {"type": "point", "filled": true, "opacity": 1, "size": 160, "stroke": "white", "strokeWidth": 1.2, "strokeOpacity": 0.8},
              "encoding": {
                "color": {"field": "series", "type": "nominal",
                  "scale": {"domain": ["LCPT <6000", "LDST <6000", "LCPT >6000", "LGPT >6000", "LDST >6000"], "range": ["#ff0000", "#000000", "#ff0000", "#14bff2", "#000000"]},
                  "legend": {"labelExpr": "datum.label === 'LGPT >6000' ? 'LGPT\u00a0\u00a0\u00a0> 6000 b2k' : slice(datum.label, 0, 4)"}},
                "shape": {"field": "series", "type": "nominal",
                  "scale": {"domain": ["LCPT <6000", "LDST <6000", "LCPT >6000", "LGPT >6000", "LDST >6000"], "range": ["circle", "circle", "triangle-up", "triangle-up", "triangle-up"]},
                  "legend": {"labelExpr": "datum.label === 'LGPT >6000' ? 'LGPT\u00a0\u00a0\u00a0> 6000 b2k' : slice(datum.label, 0, 4)"}}
              }},
            {"data": {"name": "noteB"}, "transform": [{"filter": "datum.kind === 'group'"}],
              "mark": {"type": "text", "align": "left", "baseline": "middle", "fontSize": 16, "fontWeight": 500, "font": "Roboto", "color": "black"},
              "encoding": {"text": {"field": "label"}}},
            {"data": {"name": "noteB"}, "transform": [{"filter": "datum.kind === 'panel'"}],
              "mark": {"type": "text", "align": "left", "baseline": "alphabetic", "fontSize": 26, "fontWeight": 400, "font": "Roboto", "color": "black"},
              "encoding": {"text": {"field": "label"}}}
          ]
        },
        {
          "width": 420, "height": 440,
          "encoding": {
            "x": {"field": "x", "type": "quantitative", "scale": {"domain": [825, 1200], "nice": false, "zero": false},
              "axis": {"values": [825, 850, 875, 900, 925, 950, 975, 1000, 1025, 1050, 1075, 1100, 1125, 1150, 1175, 1200],
                "labelExpr": "datum.value % 50 === 0 ? format(datum.value, 'd') : ''",
                "tickSize": {"condition": {"test": "datum.value % 50 === 0", "value": 6}, "value": 4},
                "title": "T cpx-liq (Eqn 33; Putirka, 2008) [°C]", "titleX": 219, "titleY": 75}},
            "y": {"field": "y", "type": "quantitative", "scale": {"domain": [825, 1200], "nice": false, "zero": false},
              "axis": {"values": [825, 850, 875, 900, 925, 950, 975, 1000, 1025, 1050, 1075, 1100, 1125, 1150, 1175, 1200],
                "labelExpr": "datum.value % 50 === 0 ? format(datum.value, 'd') : ''",
                "tickSize": {"condition": {"test": "datum.value % 50 === 0", "value": 6}, "value": 4},
                "title": "T cpx-sat (Eqn 34; Putirka, 2008) [°C]", "titleX": -69, "titleY": 218}}
          },
          "layer": [
            {"data": {"name": "guideC"}, "transform": [{"filter": "datum.kind === 'band'"}],
              "mark": {"type": "rule", "strokeDash": [2, 9.5], "strokeWidth": 2, "color": "black"},
              "encoding": {"x2": {"field": "x2"}, "y2": {"field": "y2"}}},
            {"data": {"name": "guideC"}, "transform": [{"filter": "datum.kind === 'one'"}],
              "mark": {"type": "rule", "strokeDash": [16, 7], "strokeWidth": 1.8, "color": "black"},
              "encoding": {"x2": {"field": "x2"}, "y2": {"field": "y2"}}},
            {"data": {"name": "guideC"}, "transform": [{"filter": "datum.kind === 'err'"}],
              "mark": {"type": "rule", "strokeWidth": 1.5, "color": "black"},
              "encoding": {"x2": {"field": "x2"}, "y2": {"field": "y2"}}},
            {"data": {"name": "guideC"}, "transform": [{"filter": "datum.kind === 'sep'"}],
              "mark": {"type": "rule", "strokeDash": [7, 4], "strokeWidth": 1, "color": "#333333"},
              "encoding": {"x2": {"field": "x2"}, "y2": {"field": "y2"}}},
            {"data": {"name": "C"},
              "mark": {"type": "point", "filled": true, "opacity": 1, "size": 160, "stroke": "white", "strokeWidth": 1.2, "strokeOpacity": 0.8},
              "encoding": {
                "color": {"field": "series", "type": "nominal",
                  "scale": {"domain": ["LCPT <6000", "LDST <6000", "LCPT >6000", "LGPT >6000", "LDST >6000"], "range": ["#ff0000", "#000000", "#ff0000", "#14bff2", "#000000"]},
                  "legend": {"labelExpr": "datum.label === 'LGPT >6000' ? 'LGPT\u00a0\u00a0\u00a0> 6000 b2k' : slice(datum.label, 0, 4)"}},
                "shape": {"field": "series", "type": "nominal",
                  "scale": {"domain": ["LCPT <6000", "LDST <6000", "LCPT >6000", "LGPT >6000", "LDST >6000"], "range": ["circle", "circle", "triangle-up", "triangle-up", "triangle-up"]},
                  "legend": {"labelExpr": "datum.label === 'LGPT >6000' ? 'LGPT\u00a0\u00a0\u00a0> 6000 b2k' : slice(datum.label, 0, 4)"}}
              }},
            {"data": {"name": "noteC"}, "transform": [{"filter": "datum.kind === 'group'"}],
              "mark": {"type": "text", "align": "left", "baseline": "middle", "fontSize": 16, "fontWeight": 500, "font": "Roboto", "color": "black"},
              "encoding": {"text": {"field": "label"}}},
            {"data": {"name": "noteC"}, "transform": [{"filter": "datum.kind === 'panel'"}],
              "mark": {"type": "text", "align": "left", "baseline": "alphabetic", "fontSize": 26, "fontWeight": 400, "font": "Roboto", "color": "black"},
              "encoding": {"text": {"field": "label"}}}
          ]
        }
      ]
    }
  ]
}
